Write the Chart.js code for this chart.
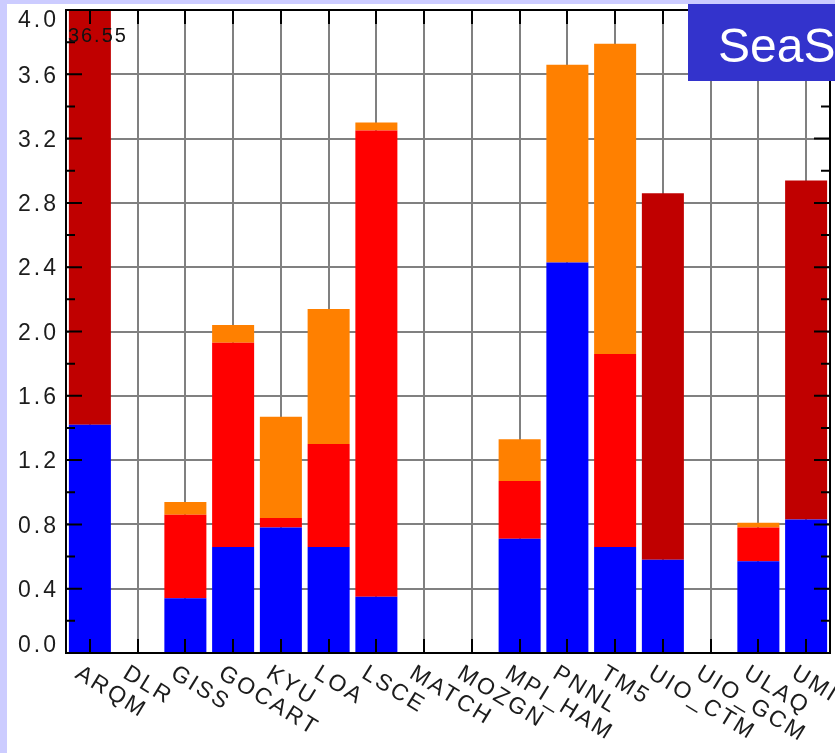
<!DOCTYPE html>
<html>
<head>
<meta charset="utf-8">
<script src="https://cdn.jsdelivr.net/npm/chart.js@4.4.1/dist/chart.umd.min.js"></script>
<style>
  html, body { margin: 0; padding: 0; background: #ccccff; }
  #wrap { position: relative; width: 835px; height: 753px; }
  canvas { display: block; }
</style>
</head>
<body>
<div id="wrap"><canvas id="c" width="835" height="753"></canvas></div>
<script>
// Models on the x axis
const models = ['ARQM', 'DLR', 'GISS', 'GOCART', 'KYU', 'LOA', 'LSCE', 'MATCH', 'MOZGN',
                'MPI_HAM', 'PNNL', 'TM5', 'UIO_CTM', 'UIO_GCM', 'ULAQ', 'UMI'];

// Stacked contributions per model (same order as models)
const fineMode   = [1.42, 0, 0.34, 0.66, 0.78, 0.66, 0.35, 0, 0, 0.71, 2.43, 0.66, 0.58, 0, 0.57, 0.83];
const midMode    = [0, 0, 0.52, 1.27, 0.06, 0.64, 2.90, 0, 0, 0.36, 0, 1.20, 0, 0, 0.21, 0];
const coarseMode = [0, 0, 0.08, 0.11, 0.63, 0.84, 0.05, 0, 0, 0.26, 1.23, 1.93, 0, 0, 0.03, 0];
const unsplit    = [35.13, 0, 0, 0, 0, 0, 0, 0, 0, 0, 0, 0, 2.28, 0, 0, 2.11];

// Value axis range and tick spacing
const yMin = 0;
const yMax = 4.0;
const yStep = 0.4;

const titleText = 'SeaSalt';

const TICK_FONT = '"Liberation Sans", Arial, sans-serif';

// Page backdrop: lavender frame with a white panel
const backdrop = {
  id: 'backdrop',
  beforeDraw(chart) {
    const ctx = chart.ctx;
    ctx.save();
    ctx.fillStyle = '#ccccff';
    ctx.fillRect(0, 0, chart.width, chart.height);
    ctx.fillStyle = '#ffffff';
    ctx.fillRect(7, 4, chart.width - 7, chart.height - 4);
    ctx.restore();
  }
};

// Axis frame, inward ticks, tick labels, overflow label and title box
const frame = {
  id: 'frame',
  afterDatasetsDraw(chart) {
    const ctx = chart.ctx;
    const a = chart.chartArea;
    const xs = chart.scales.x;
    const ys = chart.scales.y;
    ctx.save();
    ctx.strokeStyle = '#000000';
    ctx.lineWidth = 2;
    ctx.strokeRect(a.left, a.top, a.right - a.left, a.bottom - a.top);

    ctx.beginPath();
    // category ticks on bottom and top axes
    xs.ticks.forEach((t, i) => {
      const x = Math.round(xs.getPixelForTick(i));
      ctx.moveTo(x, a.bottom); ctx.lineTo(x, a.bottom - 14);
      ctx.moveTo(x, a.top); ctx.lineTo(x, a.top + 14);
    });
    // major and minor value ticks on left and right axes
    const vals = ys.ticks.map(t => t.value);
    vals.forEach((v, i) => {
      const y = ys.getPixelForValue(v);
      ctx.moveTo(a.left, y); ctx.lineTo(a.left + 16, y);
      ctx.moveTo(a.right, y); ctx.lineTo(a.right - 16, y);
      if (i < vals.length - 1) {
        const ym = ys.getPixelForValue((v + vals[i + 1]) / 2);
        ctx.moveTo(a.left, ym); ctx.lineTo(a.left + 9, ym);
        ctx.moveTo(a.right, ym); ctx.lineTo(a.right - 9, ym);
      }
    });
    ctx.stroke();

    // value labels
    ctx.fillStyle = '#1c1c1c';
    ctx.letterSpacing = '3px';
    const ySize = 23;
    ctx.font = ySize + 'px ' + TICK_FONT;
    ctx.textAlign = 'right';
    ctx.textBaseline = 'alphabetic';
    const capH = ySize * 0.716;
    vals.forEach(v => {
      let yc = ys.getPixelForValue(v);
      yc = Math.max(a.top + capH / 2 + 1, Math.min(a.bottom - capH / 2 - 1, yc));
      ctx.fillText(v.toFixed(1), a.left - 7, yc + capH / 2);
    });

    // rotated category labels
    ctx.letterSpacing = '2.5px';
    ctx.font = '23px ' + TICK_FONT;
    ctx.textAlign = 'left';
    const ang = 31.5 * Math.PI / 180;
    models.forEach((m, i) => {
      const x = xs.getPixelForTick(i);
      ctx.save();
      ctx.translate(x - 16, a.bottom + 24);
      ctx.rotate(ang);
      ctx.fillText(m, 0, 0);
      ctx.restore();
    });

    // total of a bar that runs off the top of the axis
    ctx.letterSpacing = '2px';
    ctx.font = '20px ' + TICK_FONT;
    ctx.fillStyle = '#111111';
    models.forEach((m, i) => {
      const total = fineMode[i] + midMode[i] + coarseMode[i] + unsplit[i];
      if (total > yMax) {
        const x = xs.getPixelForTick(i);
        ctx.fillText(total.toFixed(2), x - 22, a.top + 32);
      }
    });

    // title box
    ctx.letterSpacing = '0px';
    ctx.fillStyle = '#3333cc';
    ctx.fillRect(688, 4, chart.width - 688, 77);
    ctx.fillStyle = '#ffffff';
    ctx.font = '48px ' + TICK_FONT;
    ctx.fillText(titleText, 718, 62);
    ctx.restore();
  }
};

new Chart(document.getElementById('c'), {
  type: 'bar',
  data: {
    labels: models,
    datasets: [
      { label: 'fine', data: fineMode, backgroundColor: '#0000ff' },
      { label: 'mid', data: midMode, backgroundColor: '#ff0000' },
      { label: 'coarse', data: coarseMode, backgroundColor: '#ff8000' },
      { label: 'unsplit', data: unsplit, backgroundColor: '#c00000' }
    ]
  },
  options: {
    responsive: false,
    animation: false,
    devicePixelRatio: 1,
    layout: { padding: { left: 66, right: 5, top: 10, bottom: 100 } },
    datasets: { bar: { categoryPercentage: 0.88, barPercentage: 1.0, borderWidth: 0 } },
    plugins: { legend: { display: false }, tooltip: { enabled: false } },
    scales: {
      x: {
        stacked: true,
        grid: { offset: false, color: '#808080', lineWidth: 2, drawTicks: false },
        border: { display: false },
        ticks: { display: false },
        afterFit(s) { s.height = 0; }
      },
      y: {
        stacked: true,
        min: yMin,
        max: yMax,
        grid: { color: '#808080', lineWidth: 2, drawTicks: false },
        border: { display: false },
        ticks: { display: false, stepSize: yStep },
        afterFit(s) { s.width = 0; }
      }
    }
  },
  plugins: [backdrop, frame]
});
</script>
</body>
</html>
